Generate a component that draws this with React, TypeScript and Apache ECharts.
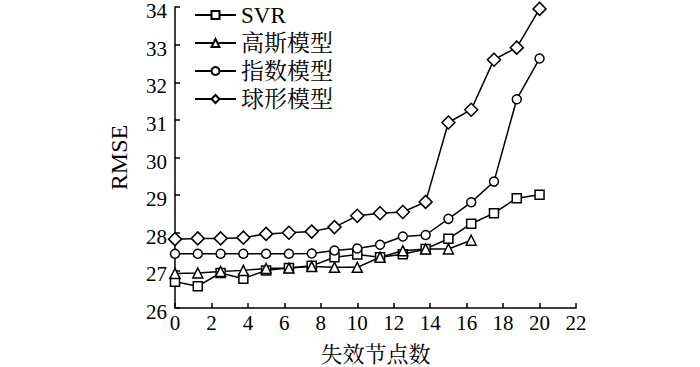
import React, { useEffect, useRef } from "react";
import * as echarts from "echarts";

const xValues = [0, 1.25, 2.5, 3.75, 5, 6.25, 7.5, 8.75, 10, 11.25, 12.5, 13.75, 15, 16.25, 17.5, 18.75, 20];
const svr = [26.7, 26.58, 26.93, 26.78, 27.0, 27.06, 27.12, 27.35, 27.42, 27.35, 27.43, 27.57, 27.84, 28.24, 28.52, 28.92, 29.01];
const gauss = [26.92, 26.93, 26.97, 27.0, 27.05, 27.06, 27.1, 27.08, 27.08, 27.35, 27.52, 27.57, 27.57, 27.8];
const expo = [27.44, 27.44, 27.44, 27.44, 27.44, 27.44, 27.45, 27.53, 27.58, 27.68, 27.9, 27.94, 28.37, 28.81, 29.36, 31.55, 32.63];
const sphere = [27.83, 27.85, 27.85, 27.87, 27.97, 28.0, 28.03, 28.15, 28.45, 28.52, 28.55, 28.82, 30.93, 31.27, 32.6, 32.92, 33.95];
const seriesNames = ["SVR", "高斯模型", "指数模型", "球形模型"];
const xAxisName = "失效节点数";
const yAxisName = "RMSE";

const FONT = "'Liberation Serif', 'Noto Serif CJK SC', 'Noto Sans CJK SC', serif";

function pairs(ys: number[]) {
  return ys.map((y, i) => [xValues[i], y]);
}

export default function App() {
  const ref = useRef<HTMLDivElement>(null);
  useEffect(() => {
    if (!ref.current) return;
    document.body.style.margin = "0";
    const chart = echarts.init(ref.current, undefined, { renderer: "svg" });
    const lineStyle = { color: "#000", width: 1.5 };
    const itemStyle = { color: "#fff", borderColor: "#000", borderWidth: 1.5 };
    const mk = (name: string, data: number[], symbol: string, size: number) => ({
      name,
      type: "line",
      data: pairs(data),
      symbol,
      symbolSize: size,
      showAllSymbol: true,
      lineStyle,
      itemStyle,
      color: "#000",
    });
    chart.setOption({
      animation: false,
      backgroundColor: "#fff",
      textStyle: { fontFamily: FONT },
      grid: { left: 175, right: 124, top: 7, bottom: 59, outerBoundsMode: "none", containLabel: false },
      legend: {
        orient: "vertical",
        left: 189,
        top: -2,
        itemWidth: 41,
        itemHeight: 10,
        itemGap: 4,
        data: seriesNames,
        textStyle: { fontFamily: FONT, fontSize: 23, color: "#000", lineHeight: 24 },
      },
      xAxis: {
        type: "value",
        min: 0,
        max: 22,
        interval: 2,
        name: xAxisName,
        nameLocation: "middle",
        nameGap: 35,
        nameTextStyle: { fontFamily: FONT, fontSize: 22, color: "#000" },
        axisLine: { lineStyle: { color: "#000", width: 1.5 } },
        axisTick: { inside: true, length: 5, lineStyle: { color: "#000", width: 1.5 } },
        axisLabel: { fontFamily: FONT, fontSize: 21, color: "#000", margin: 4 },
        splitLine: { show: false },
      },
      yAxis: {
        type: "value",
        min: 26,
        max: 34,
        interval: 1,
        name: yAxisName,
        nameLocation: "middle",
        nameGap: 44,
        nameTextStyle: { fontFamily: FONT, fontSize: 24, color: "#000" },
        axisLine: { show: true, lineStyle: { color: "#000", width: 1.5 } },
        axisTick: { show: true, inside: true, length: 5, lineStyle: { color: "#000", width: 1.5 } },
        axisLabel: { fontFamily: FONT, fontSize: 21, color: "#000", margin: 8, verticalAlign: "top", lineHeight: 8 },
        splitLine: { show: false },
      },
      series: [
        mk(seriesNames[0], svr, "rect", 9),
        mk(seriesNames[1], gauss, "triangle", 10),
        mk(seriesNames[2], expo, "circle", 9),
        mk(seriesNames[3], sphere, "diamond", 13),
      ],
    });
    return () => chart.dispose();
  }, []);
  return <div ref={ref} style={{ width: 700, height: 367 }} />;
}
